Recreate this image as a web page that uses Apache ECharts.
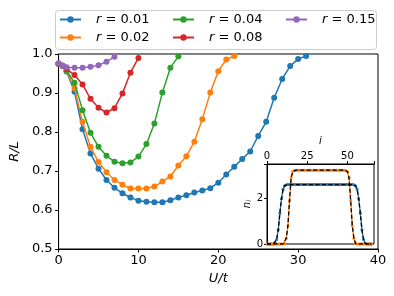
<!DOCTYPE html>
<html><head><meta charset="utf-8">
<script src="https://cdn.jsdelivr.net/npm/echarts@6/dist/echarts.min.js"></script>
<style>html,body{margin:0;padding:0;background:#fff}#c{width:394px;height:296px}</style>
</head><body><div id="c"></div><script>
// Main plot data: R/L versus U/t
const U = [0,0.5,1,2,3,4,5,6,7,8,9,10,11,12,13,14,15,16,17,18,19,20,21,22,23,24,25,26,27,28,29,30,31];
const R001 = [0.975,0.970,0.955,0.903,0.807,0.745,0.706,0.677,0.657,0.643,0.632,0.624,0.621,0.620,0.620,0.625,0.632,0.638,0.645,0.650,0.656,0.670,0.691,0.711,0.731,0.750,0.790,0.826,0.888,0.936,0.969,0.987,0.995];
const R002 = [0.975,0.970,0.957,0.912,0.826,0.762,0.723,0.697,0.677,0.665,0.655,0.655,0.655,0.660,0.673,0.686,0.714,0.738,0.775,0.833,0.901,0.956,0.986,0.995];
const R004 = [0.975,0.970,0.958,0.926,0.856,0.798,0.762,0.739,0.724,0.720,0.722,0.737,0.769,0.822,0.901,0.965,0.994];
const R008 = [0.975,0.970,0.962,0.946,0.922,0.885,0.862,0.850,0.861,0.899,0.952,0.990];
const R015 = [0.976,0.970,0.966,0.965,0.965,0.967,0.971,0.980,0.993];
const seriesNames = ['r = 0.01','r = 0.02','r = 0.04','r = 0.08','r = 0.15'];
const xTicks = [0,10,20,30,40];
const yTicks = [0.5,0.6,0.7,0.8,0.9,1.0];
// Inset data: density n_i per site i
const nBlue = [0,0,0,0,0,0.03,0.2,0.62,1.35,1.98,2.4,2.55,2.59,
 2.6,2.6,2.6,2.6,2.6,2.6,2.6,2.6,2.6,2.6,2.6,2.6,2.6,2.6,2.6,2.6,2.6,2.6,2.6,2.6,2.6,2.6,2.6,2.6,2.6,2.6,2.6,2.6,2.6,2.6,2.6,2.6,2.6,2.6,2.6,2.6,2.6,2.6,2.6,2.6,2.6,
 2.59,2.55,2.4,1.98,1.35,0.62,0.2,0.03,0,0,0,0];
const nOrange = [0,0,0,0,0,0,0,0,0,0,0,0.03,0.25,0.8,1.9,2.9,3.17,3.22,
 3.23,3.23,3.23,3.23,3.23,3.23,3.23,3.23,3.23,3.23,3.23,3.23,3.23,3.23,3.23,3.23,3.23,3.23,3.23,3.23,3.23,3.23,3.23,3.23,3.23,3.23,3.23,3.23,3.23,3.23,3.23,
 3.22,3.17,2.9,1.9,0.8,0.25,0.03,0,0,0,0,0,0,0,0,0,0];
const insetXTicks = [0,25,50];
const insetYTicks = [0,2];

const colors = ['#1f77b4','#ff7f0e','#2ca02c','#d62728','#9467bd'];
const Rs = [R001,R002,R004,R008,R015];
const FF = 'DejaVu Sans';

const chart = echarts.init(document.getElementById('c'), null, {renderer:'canvas'});

const mainSeries = Rs.map((arr, k) => ({
  type:'line', name: seriesNames[k], xAxisIndex:0, yAxisIndex:0,
  data: arr.map((v,i) => [U[i], v]),
  symbol:'circle', symbolSize:6, showSymbol:true,
  lineStyle:{width:1.5, color:colors[k]}, itemStyle:{color:colors[k]},
  animation:false, z: 3 + k
}));

const insetSeries = [
  {data:nBlue, color:colors[0]},
  {data:nOrange, color:colors[1]}
].map(s => ({
  type:'line', xAxisIndex:1, yAxisIndex:1,
  data: s.data.map((v,i) => [i, v]),
  symbol:'circle', symbolSize:3, showSymbol:true,
  lineStyle:{width:1.3, color:s.color}, itemStyle:{color:s.color},
  animation:false, z: 10
})).concat([nBlue, nOrange].map(arr => ({
  type:'line', xAxisIndex:1, yAxisIndex:1,
  data: arr.map((v,i) => [i, v]),
  showSymbol:false, symbol:'none',
  lineStyle:{width:1.3, color:'#000', type:[4,2.5]},
  animation:false, z: 11
})));

const legendLayout = [[59,13],[59,31],[172,13],[172,31],[285,13]];
const legends = seriesNames.map((n,k) => ({
  data:[n], left: legendLayout[k][0], top: legendLayout[k][1],
  itemWidth:21, itemHeight:8, itemGap:0, padding:0,
  textStyle:{fontFamily:FF, fontSize:13, color:'#000', padding:[0,0,0,10],
    rich:{i:{fontFamily:FF, fontSize:13, fontStyle:'italic', color:'#000'},
          t:{fontFamily:FF, fontSize:13, color:'#000'}}},
  formatter: s => '{i|r}{t| = ' + s.slice(4) + '}',
  selectedMode:false
}));

const axisText = {fontFamily:FF, fontSize:13, color:'#000'};

chart.setOption({
  animation:false,
  backgroundColor:'#fff',
  graphic:[{type:'rect', shape:{x:55.5, y:10.5, width:321, height:39, r:3},
    style:{fill:'rgba(255,255,255,0.8)', stroke:'#cccccc', lineWidth:1}, z:-1}],
  legend: legends,
  grid:[
    {left:54, top:54, width:324, height:195, show:true, borderColor:'#000', borderWidth:1, backgroundColor:'#fff'},
    {left:267, top:164, width:107, height:80, show:true, borderColor:'#000', borderWidth:1, backgroundColor:'#fff', z:5}
  ],
  xAxis:[
    {type:'value', gridIndex:0, min:0, max:40, interval:10,
     axisLine:{show:true, onZero:false, lineStyle:{color:'#000', width:1}},
     axisTick:{show:true, length:3.5, lineStyle:{color:'#000'}},
     splitLine:{show:false},
     axisLabel:{...axisText, margin:5, formatter: v => xTicks.includes(v) ? String(v) : ''},
     name:'U/t', nameLocation:'middle', nameGap:21,
     nameTextStyle:{...axisText, fontStyle:'italic'}},
    {type:'value', gridIndex:1, position:'top', min:0, max:66.5, interval:25,
     axisLine:{show:true, onZero:false, lineStyle:{color:'#000', width:1}},
     axisTick:{show:true, length:3, lineStyle:{color:'#000'}},
     splitLine:{show:false},
     axisLabel:{fontFamily:FF, fontSize:10, color:'#000', margin:3,
       formatter: v => insetXTicks.includes(v) ? String(v) : ''},
     name:'i', nameLocation:'middle', nameGap:18,
     nameTextStyle:{fontFamily:FF, fontSize:10, color:'#000', fontStyle:'italic'}, z:6}
  ],
  yAxis:[
    {type:'value', gridIndex:0, min:0.5, max:1.0, interval:0.1,
     axisLine:{show:true, onZero:false, lineStyle:{color:'#000', width:1}},
     axisTick:{show:true, length:3.5, lineStyle:{color:'#000'}},
     splitLine:{show:false},
     axisLabel:{...axisText, margin:6, formatter: v => {
        const r = Math.round(v*10)/10; return yTicks.some(t => Math.abs(t-r)<1e-9) ? r.toFixed(1) : ''; }},
     name:'R/L', nameLocation:'middle', nameGap:30, nameRotate:90,
     nameTextStyle:{...axisText, fontStyle:'italic'}},
    {type:'value', gridIndex:1, min:0, max:3.5, interval:2,
     axisLine:{show:true, onZero:false, lineStyle:{color:'#000', width:1}},
     axisTick:{show:true, length:3, lineStyle:{color:'#000'}},
     splitLine:{show:false},
     axisLabel:{fontFamily:FF, fontSize:10, color:'#000', margin:4,
       formatter: v => insetYTicks.includes(v) ? String(v) : ''},
     name:'{n|n}{s|i}', nameLocation:'middle', nameGap:14, nameRotate:90,
     nameTextStyle:{fontFamily:FF, fontSize:10, color:'#000',
       rich:{n:{fontFamily:FF, fontSize:10, fontStyle:'italic', color:'#000'},
             s:{fontFamily:FF, fontSize:7, fontStyle:'italic', color:'#000', verticalAlign:'bottom', padding:[4,0,0,0]}}}, z:6}
  ],
  series: mainSeries.concat(insetSeries)
});
</script></body></html>
